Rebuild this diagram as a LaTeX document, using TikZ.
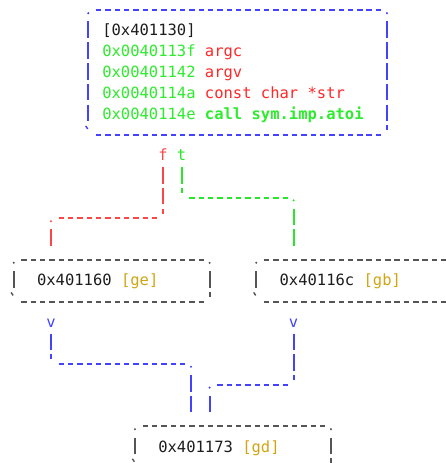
\documentclass[tikz,border=0pt]{standalone}
\usepackage{fontspec}
\setmonofont{DejaVu Sans Mono}

\definecolor{ink}{RGB}{28,28,28}
\definecolor{framegray}{RGB}{85,85,85}
\definecolor{edgeblue}{RGB}{66,66,255}
\definecolor{edgered}{RGB}{255,70,70}
\definecolor{edgegreen}{RGB}{40,230,40}
\definecolor{addr}{RGB}{45,235,45}
\definecolor{cmt}{RGB}{255,40,40}
\definecolor{tag}{RGB}{208,165,20}

% Character-cell drawing helpers: (col,row) is the centre of a column at a row's baseline.
% a run of '|' bars from row #3 to row #4
\newcommand\pipeRun[4]{\draw[#1,vbar] ([yshift=14.5pt]#2,#3) -- ([yshift=-2pt]#2,#4);}
% a run of '|' bars ending in a "'" tick at row #4
\newcommand\pipeTick[4]{\draw[#1,vbar] ([yshift=14.5pt]#2,#3) -- ([yshift=9.5pt]#2,#4);}
% a run of '-' dashes from column #2 to column #3 on row #4
\newcommand\dashRun[4]{\draw[#1,hbar] ([xshift=-1.75pt,yshift=4.8pt]#2,#4) -- ([xshift=3.75pt,yshift=4.8pt]#3,#4);}
% a '.' corner
\newcommand\dotMark[3]{\fill[#1] ([yshift=2pt]#2,#3) circle (1.15pt);}
% a '`' corner
\newcommand\backTick[3]{\draw[#1,line width=1.4pt] ([xshift=-2.6pt,yshift=14pt]#2,#3) -- ([xshift=-0.6pt,yshift=11pt]#2,#3);}
% a whole block frame: colour, left col, top row, right col, bottom row
\newcommand\asciiFrame[5]{%
  \dotMark{#1}{#2}{#3}\dotMark{#1}{#4}{#3}%
  \dashRun{#1}{#2+1}{#4-1}{#3}%
  \pipeRun{#1}{#2}{#3+1}{#5-1}\pipeRun{#1}{#4}{#3+1}{#5-1}%
  \backTick{#1}{#2}{#5}%
  \dashRun{#1}{#2+1}{#4-1}{#5}%
  \pipeTick{#1}{#4}{#5}{#5}}

\begin{document}
\begin{tikzpicture}[x=9.33pt,y=-20.8pt,
  txt/.style={inner sep=0pt,outer sep=0pt,anchor=base west,text=ink,
    font=\ttfamily\fontsize{15.5pt}{20.8pt}\selectfont},
  lbl/.style={txt,anchor=base},
  vbar/.style={line width=2pt,dash pattern=on 16.5pt off 4.3pt},
  hbar/.style={line width=1.9pt,dash pattern=on 5.5pt off 3.83pt}]

\path[use as bounding box] (-1.4684,-1.7308) rectangle (46.334,20.529);
\clip (-1.4684,-1.7308) rectangle (46.334,20.529);

% ---- blocks (a multi-line node sits on the baseline of its last line) ----
\node[txt,align=left] (entry) at (9.5,4) {[0x401130]\\
\textcolor{addr}{0x0040113f} \textcolor{cmt}{argc}\\
\textcolor{addr}{0x00401142} \textcolor{cmt}{argv}\\
\textcolor{addr}{0x0040114a} \textcolor{cmt}{const char *str}\\
\textcolor{addr}{0x0040114e} \textcolor{addr}{\bfseries call sym.imp.atoi}};
\asciiFrame{edgeblue}{8}{-1}{40}{5}

\node[txt] (ge) at (2.5,12) {0x401160 \textcolor{tag}{[ge]}};
\asciiFrame{framegray}{0}{11}{21}{13}

\node[txt] (gb) at (28.5,12) {0x40116c \textcolor{tag}{[gb]}};
\asciiFrame{framegray}{26}{11}{47}{13}

\node[txt] (gd) at (15.5,20) {0x401173 \textcolor{tag}{[gd]}};
\asciiFrame{framegray}{13}{19}{34}{21}

% ---- branch labels ----
\node[lbl,text=edgered] (f) at (16,6) {f};
\node[lbl,text=edgegreen] (t) at (18,6) {t};
\node[lbl,text=edgeblue] (vge) at (4,14) {v};
\node[lbl,text=edgeblue] (vgb) at (30,14) {v};

% ---- false edge: entry -> ge ----
\pipeTick{edgered}{16}{7}{9}
\dashRun{edgered}{5}{15}{9}
\dotMark{edgered}{4}{9}
\pipeRun{edgered}{4}{10}{10}

% ---- true edge: entry -> gb ----
\pipeTick{edgegreen}{18}{7}{8}
\dashRun{edgegreen}{19}{29}{8}
\dotMark{edgegreen}{30}{8}
\pipeRun{edgegreen}{30}{9}{10}

% ---- ge -> gd ----
\pipeTick{edgeblue}{4}{15}{16}
\dashRun{edgeblue}{5}{18}{16}
\dotMark{edgeblue}{19}{16}
\pipeRun{edgeblue}{19}{17}{18}

% ---- gb -> gd ----
\pipeTick{edgeblue}{30}{15}{17}
\dashRun{edgeblue}{22}{29}{17}
\dotMark{edgeblue}{21}{17}
\pipeRun{edgeblue}{21}{18}{18}
\end{tikzpicture}
\end{document}
